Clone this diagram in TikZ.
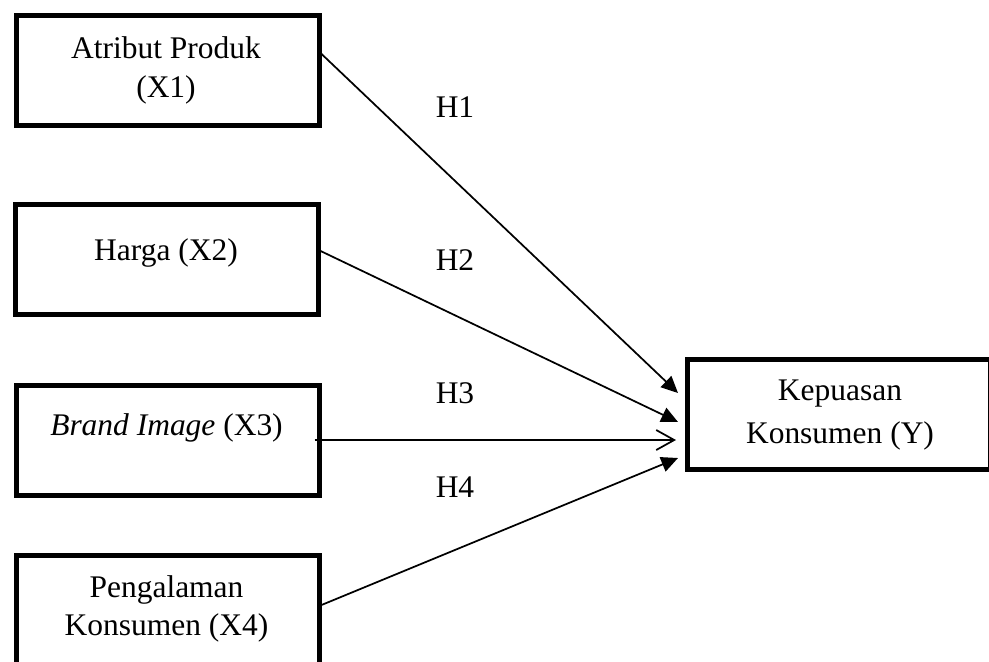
\documentclass[tikz,border=0pt]{standalone}
\usepackage{fontspec}
\setmainfont{Liberation Serif}
\usetikzlibrary{arrows.meta,calc}
\begin{document}
\begin{tikzpicture}[x=0.75pt,y=-0.75pt,
  box/.style={draw,line width=3.75pt,minimum width=227.25pt,minimum height=82.5pt,inner sep=0pt,outer sep=1.875pt},
  txt/.style={anchor=base,inner sep=0pt,font=\fontsize{23.6}{28}\selectfont},
  link/.style={line width=1.3pt},
  fillhead/.style={link,-{Triangle[length=12.5pt,width=11.5pt]}},
  openhead/.style={link,-{Straight Barb[length=13.5pt,width=15pt]}}]
\useasboundingbox (0,0) rectangle (989,661);
\clip (0,0) rectangle (989,661);
% boxes
\node[box] (x1) at (167.5,70.5) {};
\node[box] (x2) at (166.5,259.5) {};
\node[box] (x3) at (167.5,440.5) {};
\node[box] (x4) at (167.5,610.5) {};
\node[box] (y) at (839,414.5) {};
% texts
\node[txt] (t1a) at (166,58) {Atribut Produk};
\node[txt] (t1b) at (166,97) {(X1)};
\node[txt] (t2) at (166,260) {Harga (X2)};
\node[txt] (t3) at (166.5,435) {\textit{Brand Image} (X3)};
\node[txt] (t4a) at (166.5,597) {Pengalaman};
\node[txt] (t4b) at (166.5,635) {Konsumen (X4)};
\node[txt] (tya) at (840,400) {Kepuasan};
\node[txt] (tyb) at (840,443) {Konsumen (Y)};
% hypothesis labels
\node[txt] (h1) at (455,117) {H1};
\node[txt] (h2) at (455,270) {H2};
\node[txt] (h3) at (455,403) {H3};
\node[txt] (h4) at (455,497) {H4};
% connectors
\draw[fillhead] ($(x1.east)+(-1,-17.5)$) -- ($(y.west)+(-7,-21.5)$);
\draw[fillhead] ($(x2.east)+(-2,-9.5)$) -- ($(y.west)+(-7,7.5)$);
\draw[openhead] ($(x3.east)+(-7,-0.5)$) -- ($(y.west)+(-9,25.5)$);
\draw[fillhead] ($(x4.east)+(0,-5.5)$) -- ($(y.west)+(-7,43.5)$);
\end{tikzpicture}
\end{document}
